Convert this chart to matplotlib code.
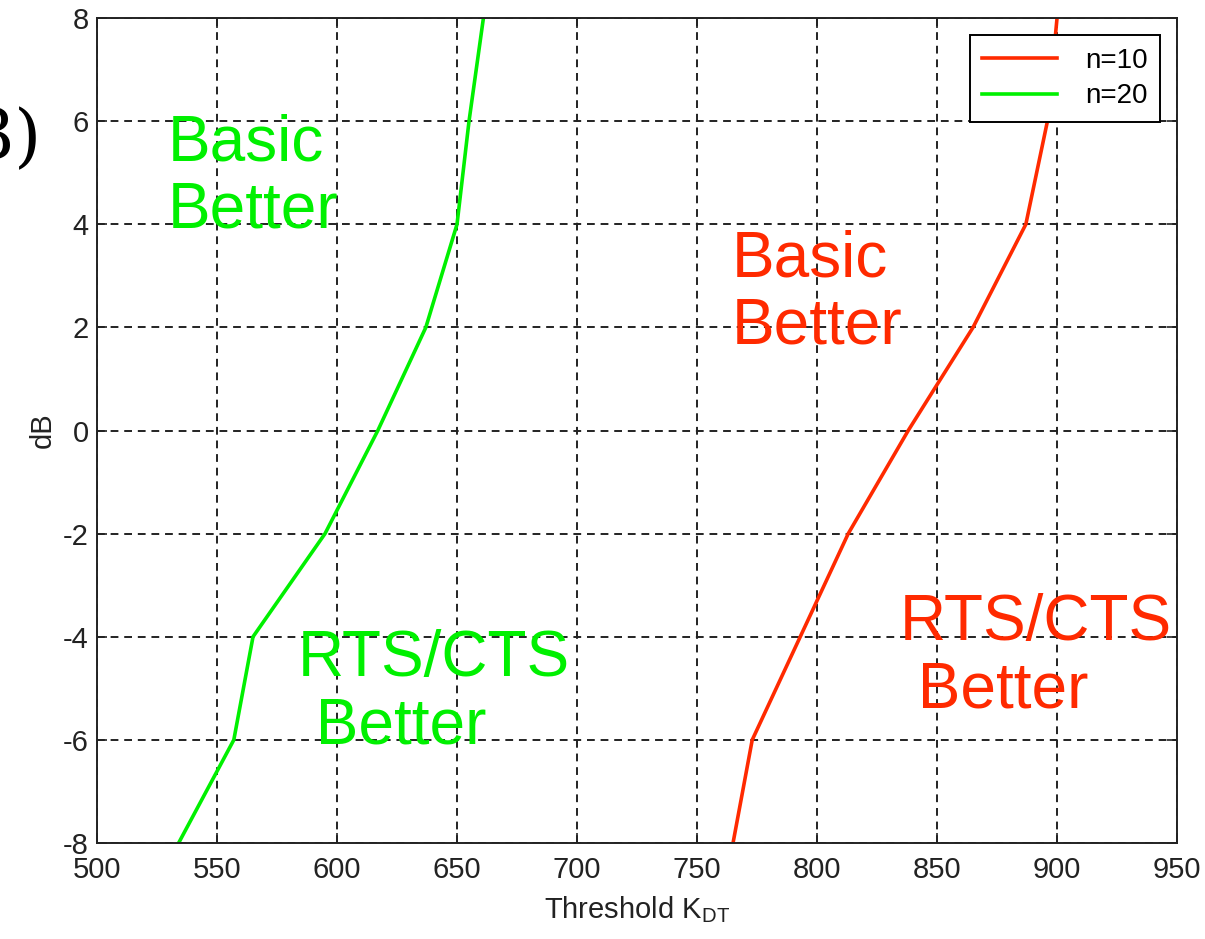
import matplotlib
matplotlib.use("Agg")
import matplotlib.pyplot as plt

# Data
db_levels = [-8, -6, -4, -2, 0, 2, 4, 6, 8]
kdt_n10 = [765, 773, 793, 813, 838, 865, 887, 896, 900]
kdt_n20 = [534, 557, 565, 595, 617, 637, 650, 655, 661]
series_labels = ["n=10", "n=20"]
x_ticks = [500, 550, 600, 650, 700, 750, 800, 850, 900, 950]
y_ticks = [-8, -6, -4, -2, 0, 2, 4, 6, 8]

RED = "#ff2a00"
GREEN = "#00f000"

plt.rcParams['font.family'] = ['Liberation Sans', 'DejaVu Sans']
plt.rcParams['mathtext.fontset'] = 'custom'
plt.rcParams['mathtext.rm'] = 'Liberation Sans'
plt.rcParams['axes.unicode_minus'] = False

fig = plt.figure(figsize=(12.05, 9.39), dpi=100)
ax = fig.add_axes([0.0805, 0.1022, 0.8963, 0.8786])

ax.plot(kdt_n10, db_levels, color=RED, lw=2.6, label=series_labels[0])
ax.plot(kdt_n20, db_levels, color=GREEN, lw=2.6, label=series_labels[1])

ax.set_xlim(500, 950)
ax.set_ylim(-8, 8)
ax.set_xticks(x_ticks)
ax.set_yticks(y_ticks)
ax.tick_params(direction='in', length=7, width=1.2, top=True, right=True,
               labelsize=21, colors='#222222')
ax.tick_params(axis='x', pad=9)
ax.tick_params(axis='y', pad=6)
for s in ax.spines.values():
    s.set_linewidth(1.4)
    s.set_color('#222222')
ax.grid(True, color='#222222', linestyle=(0, (4, 3)), linewidth=1.4)

ax.set_xlabel(r'Threshold K$_{\mathrm{DT}}$', fontsize=21, color='#222222', labelpad=8)
ax.set_ylabel('dB', fontsize=21, color='#222222', labelpad=4)

leg = ax.legend(loc='upper right', bbox_to_anchor=(0.9843, 0.9794), fancybox=False,
                edgecolor='black', framealpha=1, fontsize=20, handlelength=2.7,
                handletextpad=1.0, borderpad=0.45, labelspacing=0.35, borderaxespad=0)
leg.get_frame().set_linewidth(1.4)

big = 46
ls = 1.16
ax.text(529.6, 6.15, "Basic\nBetter", color=GREEN, fontsize=big, va='top', ha='left',
        linespacing=ls)
ax.text(764.6, 3.9, "Basic\nBetter", color=RED, fontsize=big, va='top', ha='left',
        linespacing=ls)
ax.text(583.7, -3.85, "RTS/CTS\n Better", color=GREEN, fontsize=big, va='top', ha='left',
        linespacing=ls)
ax.text(834.6, -3.15, "RTS/CTS\n Better", color=RED, fontsize=big, va='top', ha='left',
        linespacing=ls)

fig.text(42 / 1205, 1 - 140 / 939, "3)", fontsize=50, family='DejaVu Serif',
         ha='right', va='center', color='black')

fig.savefig("out.png", dpi=100)
